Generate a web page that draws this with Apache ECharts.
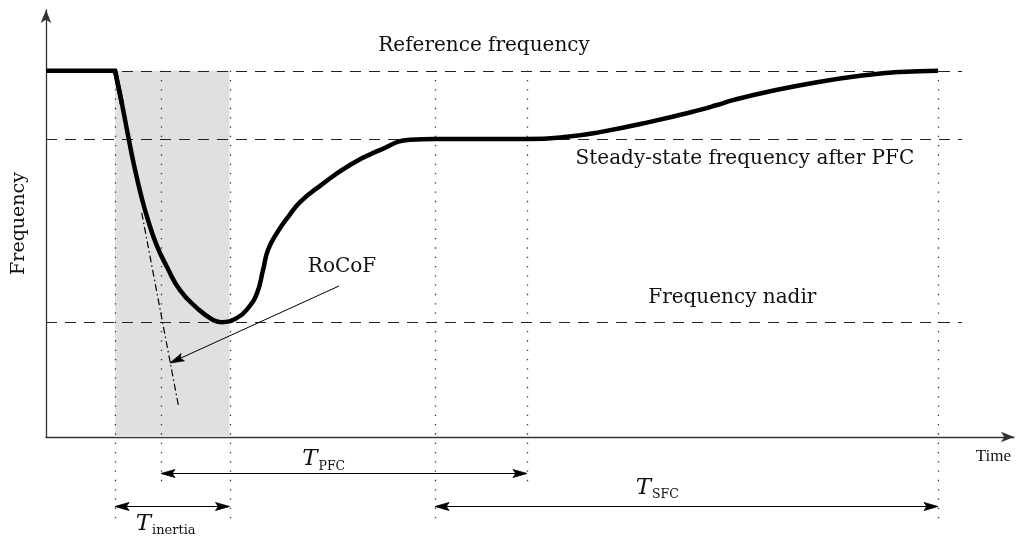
<!DOCTYPE html>
<html>
<head>
<meta charset="utf-8">
<script src="https://cdn.jsdelivr.net/npm/echarts@6/dist/echarts.min.js"></script>
<style>
  html, body { margin: 0; padding: 0; background: #fff; }
  #chart { width: 1020px; height: 540px; }
</style>
</head>
<body>
<div id="chart"></div>
<script>
// Frequency response after a loss of generation, in normalised units
// (time 0..100, frequency 0..100).

// Frequency before the disturbance
const preTime = [0, 7.13, 7.85];
const preFreq = [85.8, 85.8, 78.0];

// Frequency trajectory from the disturbance onwards
const curveTime = [7.13, 7.85, 8.47, 9.09, 9.81, 10.54, 11.47, 12.50, 13.84, 15.60,
  17.25, 18.10, 19.73, 20.87, 21.80, 22.42, 22.93, 23.86, 25.00, 26.24,
  28.31, 31.40, 34.50, 37.60, 40.19, 49.69, 53.82, 57.23, 62.40, 67.56,
  69.32, 70.97, 74.48, 79.65, 84.81, 88.22, 92.15];
const curveFreq = [85.8, 78.0, 70.7, 63.7, 56.7, 50.8, 44.7, 39.8, 34.4, 30.2,
  27.4, 26.9, 27.9, 30.2, 33.7, 39.1, 43.8, 47.8, 51.5, 55.0,
  58.8, 63.7, 67.2, 69.6, 69.8, 69.8, 70.3, 71.4, 73.8, 76.6,
  77.75, 78.9, 80.8, 83.1, 84.8, 85.5, 85.8];

// Initial rate of change of frequency (tangent at the disturbance)
const tangentTime = [9.89, 13.67];
const tangentFreq = [52.5, 7.5];

// Horizontal reference levels
const levelNames = ['Reference frequency', 'Steady-state frequency after PFC', 'Frequency nadir'];
const levelValues = [85.8, 69.8, 26.9];

// Time instants marked with dotted guides
const eventTimes = [7.13, 11.88, 18.96, 40.19, 49.69, 92.15];

// Time spans shown with double arrows below the axis
const spanNames = ['inertia', 'PFC', 'SFC'];
const spanStart = [7.13, 11.88, 40.19];
const spanEnd = [18.96, 49.69, 92.15];
const spanRow = [1, 0, 1];

// RoCoF callout: from the label towards the tangent line
const rocofFrom = [30.27, 35.36];
const rocofTo = [12.81, 17.33];

// ---- layout ----
const SERIF = '"DejaVu Serif", serif';
const GUIDE_END = 94.63;            // horizontal guides stop here (time units)
const ROW_PX = [36, 69];            // arrow rows, px below the time axis
const TAIL_PX = [12, 16];           // dotted guides run a little past the arrows
const levelLabelAt = [45.25, 72.2, 70.9];
const levelLabelDy = [-24.5, 20, -24];
const spanLabelAt = [10.85, 28.05, 62.5];
const spanLabelDy = [17.5, -14, -18.5];
const subSize = [13, 12.5, 12.5];

const pairs = (xs, ys) => xs.map((x, i) => [x, ys[i]]);

// lowest arrow row each guide has to reach
const eventRow = eventTimes.map(t => {
  let r = -1;
  spanStart.forEach((s, i) => { if (s === t || spanEnd[i] === t) r = Math.max(r, spanRow[i]); });
  return r;
});

function arrowHead(x, y, ang) {
  const L = 14, W = 4, c = Math.cos(ang), s = Math.sin(ang);
  const p = (u, v) => [x + u * c - v * s, y + u * s + v * c];
  return {
    type: 'polygon',
    shape: { points: [p(0, 0), p(-L, -W), p(-L * 0.8, 0), p(-L, W)] },
    style: { fill: '#000', stroke: '#000', lineWidth: 0.8, lineJoin: 'round' }
  };
}

const option = {
  animation: false,
  grid: { left: 46, right: 6, top: 10, bottom: 103 },
  xAxis: {
    type: 'value', min: 0, max: 100,
    axisLine: { show: true, onZero: true, symbol: ['none', 'arrow'], symbolSize: [8, 13],
      lineStyle: { color: '#333', width: 1.3 } },
    axisTick: { show: false }, axisLabel: { show: false }, splitLine: { show: false }
  },
  yAxis: {
    type: 'value', min: 0, max: 100,
    axisLine: { show: true, symbol: ['none', 'arrow'], symbolSize: [8, 13],
      lineStyle: { color: '#333', width: 1.3 } },
    axisTick: { show: false }, axisLabel: { show: false }, splitLine: { show: false },
    name: 'Frequency', nameLocation: 'middle', nameRotate: 90, nameGap: 17,
    nameTextStyle: { fontFamily: SERIF, fontSize: 19, color: '#111' }
  },
  series: [
    // shaded inertia interval
    {
      type: 'custom', z: 1, silent: true,
      data: [[spanStart[0], spanEnd[0]]],
      renderItem(params, api) {
        const a = api.coord([api.value(0), levelValues[0]]);
        const b = api.coord([api.value(1), 0]);
        return { type: 'rect', shape: { x: a[0], y: a[1], width: b[0] - a[0], height: b[1] - a[1] },
          style: { fill: '#e0e0e0' } };
      }
    },
    // dotted time guides
    {
      type: 'custom', z: 2, silent: true,
      data: eventTimes.map(t => [t, levelValues[0]]),
      renderItem(params, api) {
        const top = api.coord([api.value(0), api.value(1)]);
        const axisY = api.coord([0, 0])[1];
        const r = eventRow[params.dataIndex];
        const bottom = axisY + ROW_PX[r] + TAIL_PX[r];
        const x = Math.round(top[0]) + 0.5;
        return { type: 'line', shape: { x1: x, y1: top[1], x2: x, y2: bottom },
          style: { stroke: '#333', lineWidth: 1.3, lineDash: [1.3, 8] } };
      }
    },
    // dashed frequency levels with their labels
    {
      type: 'custom', z: 3, silent: true,
      data: levelValues.map((v, i) => [levelLabelAt[i], v]),
      renderItem(params, api) {
        const i = params.dataIndex;
        const v = api.value(1);
        const a = api.coord([0, v]);
        const b = api.coord([GUIDE_END, v]);
        const l = api.coord([api.value(0), v]);
        const y = Math.round(a[1]) + 0.5;
        return { type: 'group', children: [
          { type: 'line', shape: { x1: a[0], y1: y, x2: b[0], y2: y },
            style: { stroke: '#222', lineWidth: 1.2, lineDash: [11, 8] } },
          { type: 'text', x: l[0], y: l[1] + levelLabelDy[i],
            style: { text: levelNames[i], fontFamily: SERIF, fontSize: 20, fill: '#111',
              align: 'center', verticalAlign: 'middle' } }
        ] };
      }
    },
    // tangent at the disturbance
    {
      type: 'line', z: 4, silent: true, symbol: 'none',
      data: pairs(tangentTime, tangentFreq),
      lineStyle: { color: '#000', width: 1.2, type: [7, 3, 1.5, 3] }
    },
    // RoCoF callout
    {
      type: 'custom', z: 4, silent: true,
      data: [[rocofFrom[0], rocofFrom[1], rocofTo[0], rocofTo[1]]],
      renderItem(params, api) {
        const a = api.coord([api.value(0), api.value(1)]);
        const b = api.coord([api.value(2), api.value(3)]);
        const ang = Math.atan2(b[1] - a[1], b[0] - a[0]);
        return { type: 'group', children: [
          { type: 'line', shape: { x1: a[0], y1: a[1], x2: b[0] - 10 * Math.cos(ang), y2: b[1] - 10 * Math.sin(ang) },
            style: { stroke: '#000', lineWidth: 1 } },
          arrowHead(b[0], b[1], ang),
          { type: 'text', x: a[0] + 3, y: a[1] - 19,
            style: { text: 'RoCoF', fontFamily: SERIF, fontSize: 20, fill: '#111',
              align: 'center', verticalAlign: 'middle' } }
        ] };
      }
    },
    // time spans below the axis, and the axis caption
    {
      type: 'custom', z: 4, silent: true,
      data: spanStart.map((s, i) => [s, 0, spanEnd[i], spanLabelAt[i]]),
      renderItem(params, api) {
        const i = params.dataIndex;
        const axisY = api.coord([0, 0])[1];
        const y = Math.round(axisY + ROW_PX[spanRow[i]]) + 0.5;
        const x1 = api.coord([api.value(0), 0])[0];
        const x2 = api.coord([api.value(2), 0])[0];
        const lx = api.coord([api.value(3), 0])[0];
        const ly = y + spanLabelDy[i];
        const children = [
          { type: 'line', shape: { x1: x1 + 8, y1: y, x2: x2 - 8, y2: y },
            style: { stroke: '#000', lineWidth: 1.2 } },
          arrowHead(x1, y, Math.PI),
          arrowHead(x2, y, 0),
          { type: 'text', x: lx, y: ly,
            style: { text: 'T', fontFamily: SERIF, fontStyle: 'italic', fontSize: 23, fill: '#111',
              align: 'right', verticalAlign: 'middle' } },
          { type: 'text', x: lx + 1, y: ly + 7,
            style: { text: spanNames[i], fontFamily: SERIF, fontSize: subSize[i], fill: '#111',
              align: 'left', verticalAlign: 'middle' } }
        ];
        if (i === 0) {
          const end = api.coord([100, 0]);
          children.push({ type: 'text', x: end[0] - 3, y: axisY + 20,
            style: { text: 'Time', fontFamily: '"Liberation Serif", serif', fontSize: 17, fill: '#111',
              align: 'right', verticalAlign: 'middle' } });
        }
        return { type: 'group', children };
      }
    },
    // frequency: steady before the event
    {
      type: 'line', z: 6, silent: true, symbol: 'none',
      data: pairs(preTime, preFreq),
      lineStyle: { color: '#000', width: 4.5, join: 'miter' }
    },
    // frequency: response
    {
      type: 'line', z: 6, silent: true, symbol: 'none',
      smooth: 0.5,
      data: pairs(curveTime, curveFreq),
      lineStyle: { color: '#000', width: 4.5, join: 'round' }
    }
  ]
};

const chart = echarts.init(document.getElementById('chart'));
chart.setOption(option);
</script>
</body>
</html>
